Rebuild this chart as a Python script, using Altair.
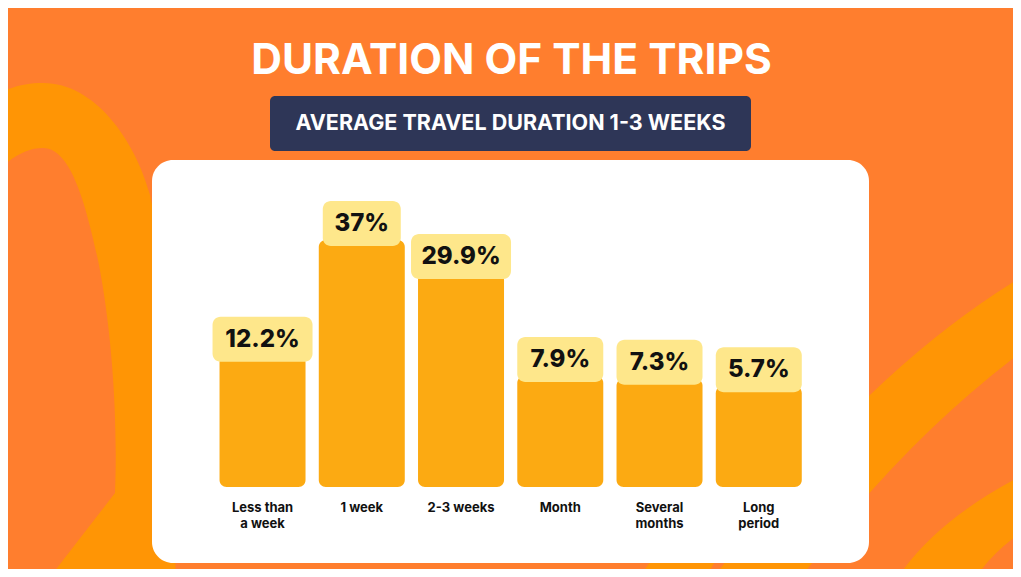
import altair as alt
import pandas as pd

# ---- data ----
categories = ["Less than\na week", "1 week", "2-3 weeks", "Month", "Several\nmonths", "Long\nperiod"]
values = [12.2, 37, 29.9, 7.9, 7.3, 5.7]
value_labels = ["12.2%", "37%", "29.9%", "7.9%", "7.3%", "5.7%"]

title_text = "DURATION OF THE TRIPS"
subtitle_text = "AVERAGE TRAVEL DURATION 1-3 WEEKS"

# ---- styles ----
BG = "#FF7E2E"
DECOR = "#FF9505"
BAR = "#FCAA12"
BOX = "#FEE78B"
NAVY = "#2E3657"
INK = "#111111"
FONT = "Inter"

W, H = 1005, 561
BASE = -15.85  # baseline of the non-zero value axis used by the design

df = pd.DataFrame({"cat": categories, "value": values, "label": value_labels})
df["base"] = BASE
df["bw"] = df["label"].str.len().map({3: 78, 4: 86, 5: 100})

xs = alt.Scale(domain=categories, range=[204.9, 800.4], paddingInner=0.1335, paddingOuter=0.0668)
ys = alt.Scale(domain=[BASE, 37], range=[479, 231.9], zero=False, nice=False)
X = alt.X("cat:N", scale=xs, axis=None, sort=categories)

one = pd.DataFrame({"k": [0]})

# decorative background ribbons (page coordinates, symbol anchored at page origin)
decor_paths = [
    "M -10 97 C 10 87 25 83 43 83 C 95 83 135 140 150 195 C 165 260 172 400 176 590 "
    "L 40 590 L 115 493 C 118 420 112 330 98 260 C 85 200 70 148 43 148 C 25 148 10 158 -10 178 Z",
    "M 1035 269 Q 860 370 705 590 L 792 590 Q 900 440 1035 342 Z",
    "M 630 590 L 698 590 L 740 520 L 680 520 Z",
    "M 1035 469 Q 930 520 890 590 L 968 590 Q 990 550 1035 524 Z",
]
decor = [
    alt.Chart(one).mark_point(shape=p, filled=True, size=4, fill=DECOR, opacity=1, clip=True)
    .encode(x=alt.value(-8), y=alt.value(-8))
    for p in decor_paths
]

panel = alt.Chart(one).mark_rect(fill="white", cornerRadius=21).encode(
    x=alt.value(144), x2=alt.value(861), y=alt.value(152), y2=alt.value(555)
)
navy = alt.Chart(one).mark_rect(fill=NAVY, cornerRadius=5).encode(
    x=alt.value(262), x2=alt.value(743), y=alt.value(88), y2=alt.value(143)
)
title = alt.Chart(one).mark_text(
    font=FONT, fontSize=42.5, fontWeight="bold", color="white", baseline="middle", align="center"
).encode(x=alt.value(503.5), y=alt.value(53), text=alt.value(title_text))
subtitle = alt.Chart(one).mark_text(
    font=FONT, fontSize=21.5, fontWeight="bold", color="white", baseline="middle", align="center"
).encode(x=alt.value(502.5), y=alt.value(116), text=alt.value(subtitle_text))

base = alt.Chart(df)
bars = base.mark_bar(color=BAR, cornerRadius=7).encode(
    x=X, y=alt.Y("value:Q", scale=ys, axis=None), y2="base:Q"
)
boxes = base.mark_bar(color=BOX, cornerRadius=8, yOffset=-39, y2Offset=6).encode(
    x=X, y=alt.Y("value:Q", scale=ys, axis=None), y2="value:Q",
    size=alt.Size("bw:Q", scale=None, legend=None),
)
vlabels = base.mark_text(
    font=FONT, fontSize=24, fontWeight=800, color=INK, baseline="middle", dy=-16
).encode(x=X, y=alt.Y("value:Q", scale=ys, axis=None), text="label:N")
clabels = base.mark_text(
    font=FONT, fontSize=13, fontWeight="bold", color=INK, baseline="alphabetic",
    lineBreak="\n", lineHeight=15.5
).encode(x=X, y=alt.value(504), text="cat:N")

chart = alt.layer(
    *decor, panel, navy, title, subtitle, bars, boxes, vlabels, clabels
).properties(
    width=W, height=H, background=BG, padding=0,
    autosize=alt.AutoSizeParams(type="fit", contains="padding"),
).configure_view(stroke=None)

chart.save("out.html", embed_options={"renderer": "svg", "actions": False})
